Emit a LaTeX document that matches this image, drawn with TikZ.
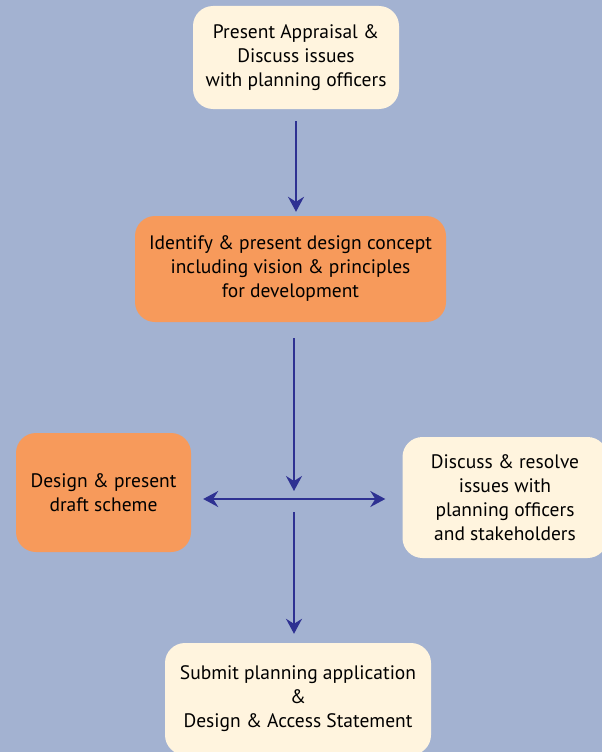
\documentclass[tikz,border=0pt]{standalone}
\usepackage{fontspec}
\setmainfont{PT Sans}
\usepackage{tikz}
\usetikzlibrary{arrows.meta}
\usetikzlibrary{positioning}
\definecolor{bgblue}{RGB}{163,178,209}
\definecolor{cream}{RGB}{255,244,222}
\definecolor{peach}{RGB}{247,154,91}
\definecolor{flowblue}{RGB}{46,49,146}
\tikzset{
  flowtip/.tip={Stealth[length=15pt,width=16pt,inset=5pt]},
  stagebox/.style={rounded corners=20pt,inner sep=0pt,align=center,text=black,
    font=\fontsize{19.5}{24}\selectfont},
  lightbox/.style={stagebox,fill=cream},
  darkbox/.style={stagebox,fill=peach},
  flow/.style={draw=flowblue,line width=1.8pt,-flowtip}
}

\begin{document}
\begin{tikzpicture}[x=1pt,y=-1pt]
    \fill[bgblue] (0,0) rectangle (602,752);
    \clip (0,0) rectangle (602,752);
    \node[lightbox,minimum width=206pt,minimum height=103pt] (appraisal) at (296,57.5)
      {Present Appraisal \&\\Discuss issues\\with planning officers};
    \node[darkbox,minimum width=311pt,minimum height=106pt] (concept) at (290.5,269)
      {Identify \& present design concept\\including vision \& principles\\for development};
    \node[darkbox,minimum width=175pt,minimum height=119pt] (draft) at (103.5,492.5)
      {Design \& present\\draft scheme};
    \node[lightbox,minimum width=205pt,minimum height=121pt] (resolve) at (505,497.5)
      {Discuss \& resolve\\issues with\\planning officers\\and stakeholders};
    \node[lightbox,minimum width=266pt,minimum height=112pt] (submit) at (298,699)
      {Submit planning application\\\&\\Design \& Access Statement};
    \coordinate (hub) at (294,499);
    \draw[flow,shorten <=12pt,shorten >=4pt] (appraisal.south) -- (appraisal.south |- concept.north);
    \draw[flow,shorten <=16pt,shorten >=8pt] (hub |- concept.south) -- (hub);
    \draw[flow,flowtip-flowtip,shorten <=12pt,shorten >=17pt] (hub -| draft.east) -- (hub -| resolve.west);
    \draw[flow,shorten <=13pt,shorten >=9pt] (hub) -- (hub |- submit.north);
\end{tikzpicture}
\end{document}
